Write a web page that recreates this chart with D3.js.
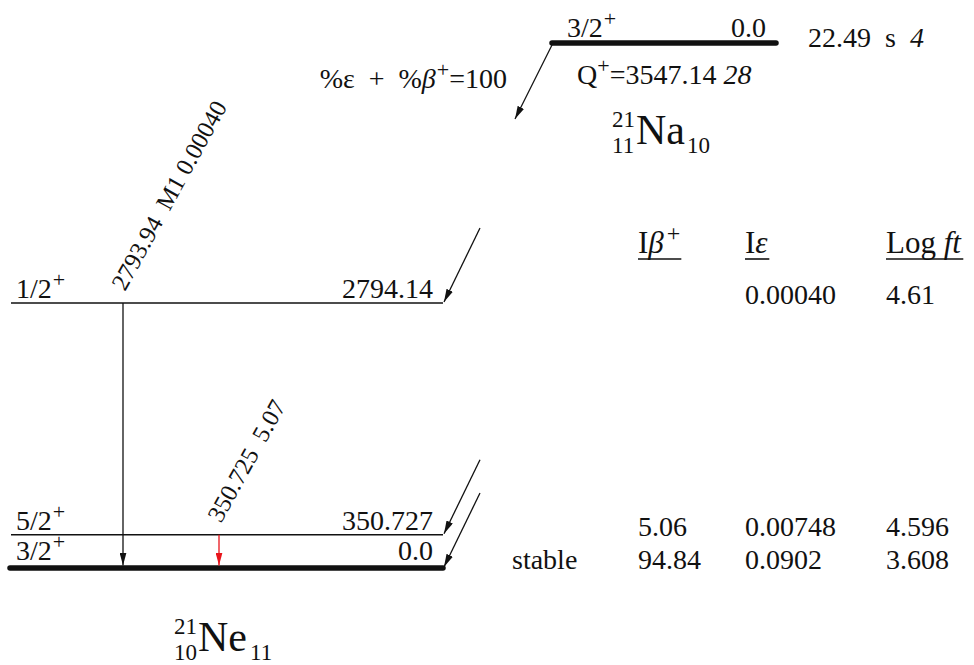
<!DOCTYPE html>
<html>
<head>
<meta charset="utf-8">
<script src="https://cdn.jsdelivr.net/npm/d3@7"></script>
<style>
  html, body { margin: 0; padding: 0; background: #fff; }
  svg text { fill: #111; white-space: pre; }
</style>
</head>
<body>
<svg id="chart" width="974" height="665" font-family="'Liberation Serif', Tinos, 'Times New Roman', 'Nimbus Roman', 'DejaVu Serif', serif"></svg>
<script>
// 21Na (3/2+, 22.49 s) decays by EC + beta+ to levels of 21Ne
const levelEnergies = [0, 350.727, 2794.14];
const levelLabels   = ["0.0", "350.727", "2794.14"];
const levelSpins    = ["3/2", "5/2", "1/2"];
const levelParity   = ["+", "+", "+"];

const gammaFrom   = [2794.14, 350.727];
const gammaTo     = [0, 0];
const gammaLabels = ["2793.94  M1 0.00040", "350.725  5.07"];
const gammaColors = ["#111", "#e8141b"];

const feedIbeta = ["94.84", "5.06", ""];
const feedIeps  = ["0.0902", "0.00748", "0.00040"];
const feedLogft = ["3.608", "4.596", "4.61"];
const groundNote = "stable";

const parentSpin = "3/2";
const parentEnergy = "0.0";
const parentHalfLife = ["22.49\u2002s\u2002", "4"];
const qValue = ["3547.14 ", "28"];
const branching = "100";

const svg = d3.select("#chart");
const FS = 28;      // main label size
const SUP = 22;     // superscript "+" size

// energy scale for daughter levels
const y = d3.scaleLinear().domain([0, 2794.14]).range([568, 303]);
const gx = d3.scaleLinear().domain([0, 1]).range([123, 219]);
const levelX0 = 11, levelX1 = 443;

const defs = svg.append("defs");
function arrowMarker(id, color, w, l) {
  defs.append("marker")
    .attr("id", id)
    .attr("markerUnits", "userSpaceOnUse")
    .attr("viewBox", `0 ${-w/2} ${l} ${w}`)
    .attr("refX", l).attr("refY", 0)
    .attr("markerWidth", l).attr("markerHeight", w)
    .attr("orient", "auto")
    .append("path")
    .attr("d", `M0,${-w/2}L${l},0L0,${w/2}Z`)
    .attr("fill", color);
}
arrowMarker("ahBlack", "#111", 7, 13);
arrowMarker("ahRed", "#e8141b", 7, 13);
arrowMarker("ahFeed", "#111", 7, 13);

function spinText(x, yy, spin, parity) {
  const t = svg.append("text").attr("x", x).attr("y", yy).attr("font-size", FS);
  t.append("tspan").text(spin);
  t.append("tspan").attr("font-size", SUP).attr("dx", 1).attr("dy", -11).text(parity);
  return t;
}

// daughter levels
levelEnergies.forEach((E, i) => {
  const thick = E === 0;
  svg.append("line")
    .attr("x1", thick ? 10 : levelX0).attr("x2", levelX1)
    .attr("y1", y(E)).attr("y2", y(E))
    .attr("stroke", "#111")
    .attr("stroke-width", thick ? 5.5 : 1.4)
    .attr("stroke-linecap", thick ? "round" : "butt");
  const by = y(E) - (thick ? 8 : 5);
  spinText(16, by, levelSpins[i], levelParity[i]);
  svg.append("text").attr("x", 433).attr("y", by)
    .attr("text-anchor", "end").attr("font-size", FS).text(levelLabels[i]);

  // feeding arrow from the parent
  svg.append("line")
    .attr("x1", 480).attr("y1", y(E) - 75)
    .attr("x2", levelX1 + 1).attr("y2", y(E) - 1)
    .attr("stroke", "#111").attr("stroke-width", 1.3)
    .attr("marker-end", "url(#ahFeed)");

  // intensity table
  const ty = y(E) + 1;
  if (feedIbeta[i]) svg.append("text").attr("x", 638).attr("y", ty).attr("font-size", FS).text(feedIbeta[i]);
  svg.append("text").attr("x", 745).attr("y", ty).attr("font-size", FS).text(feedIeps[i]);
  svg.append("text").attr("x", 886).attr("y", ty).attr("font-size", FS).text(feedLogft[i]);
});
svg.append("text").attr("x", 512).attr("y", y(0) + 1).attr("font-size", FS).text(groundNote);

// gamma transitions
gammaFrom.forEach((Ef, i) => {
  const x = gx(i);
  svg.append("line")
    .attr("x1", x).attr("x2", x)
    .attr("y1", y(Ef)).attr("y2", y(gammaTo[i]) - 2.5)
    .attr("stroke", gammaColors[i]).attr("stroke-width", 1.3)
    .attr("marker-end", i === 1 ? "url(#ahRed)" : "url(#ahBlack)");
  svg.append("text")
    .attr("transform", `translate(${x + 2},${y(Ef) - 11}) rotate(-61)`)
    .attr("font-size", 24.5)
    .text(gammaLabels[i]);
});

// table headings
const HF = 31;
const heads = [
  { x: 638, parts: [["I", "normal", 0, HF, 0], ["β", "italic", 0, HF, 0], ["+", "normal", -12, SUP + 2, 3]] },
  { x: 745, parts: [["I", "normal", 0, HF, 0], ["ε", "italic", 0, HF, 0]] },
  { x: 886, parts: [["Log ", "normal", 0, HF, 0], ["ft", "italic", 0, HF, 0]] }
];
heads.forEach(h => {
  const t = svg.append("text").attr("x", h.x).attr("y", 253).attr("font-size", HF);
  let prev = 0;
  h.parts.forEach(p => {
    t.append("tspan").attr("font-style", p[1]).attr("font-size", p[3])
      .attr("dx", p[4]).attr("dy", p[2] - prev).text(p[0]);
    prev = p[2];
  });
  const bb = t.node().getBBox();
  svg.append("line").attr("x1", h.x).attr("x2", bb.x + bb.width + 1)
    .attr("y1", 259).attr("y2", 259).attr("stroke", "#111").attr("stroke-width", 1.6);
});

// parent level
svg.append("line")
  .attr("x1", 552).attr("x2", 776).attr("y1", 43).attr("y2", 43)
  .attr("stroke", "#111").attr("stroke-width", 5.5).attr("stroke-linecap", "round");
spinText(567, 37, parentSpin, "+");
svg.append("text").attr("x", 766).attr("y", 37).attr("text-anchor", "end").attr("font-size", FS).text(parentEnergy);
const hl = svg.append("text").attr("x", 808).attr("y", 47).attr("font-size", FS);
hl.append("tspan").text(parentHalfLife[0]);
hl.append("tspan").attr("font-style", "italic").text(parentHalfLife[1]);

const q = svg.append("text").attr("x", 577).attr("y", 84).attr("font-size", FS);
q.append("tspan").text("Q");
q.append("tspan").attr("font-size", SUP).attr("dy", -11).text("+");
q.append("tspan").attr("dy", 11).text("=" + qValue[0]);
q.append("tspan").attr("font-style", "italic").text(qValue[1]);

// decay arrow from the parent
svg.append("line")
  .attr("x1", 552).attr("y1", 45).attr("x2", 515).attr("y2", 119)
  .attr("stroke", "#111").attr("stroke-width", 1.3)
  .attr("marker-end", "url(#ahFeed)");

const br = svg.append("text").attr("x", 507).attr("y", 88).attr("text-anchor", "end").attr("font-size", FS);
br.append("tspan").text("%ε\u2002+\u2002%");
br.append("tspan").attr("font-style", "italic").text("β");
br.append("tspan").attr("font-size", SUP).attr("dx", 1).attr("dy", -11).text("+");
br.append("tspan").attr("dy", 11).text("=" + branching);

// nuclide labels
function nuclide(x, yBase, A, Z, sym, N, symW) {
  svg.append("text").attr("x", x).attr("y", yBase - 17).attr("font-size", 23).text(A);
  svg.append("text").attr("x", x).attr("y", yBase + 9).attr("font-size", 23).text(Z);
  svg.append("text").attr("x", x + 24).attr("y", yBase).attr("font-size", 42).text(sym);
  svg.append("text").attr("x", x + 24 + symW).attr("y", yBase + 9).attr("font-size", 23).text(N);
}
nuclide(612, 144, "21", "11", "Na", "10", 51);
nuclide(174, 651, "21", "10", "Ne", "11", 52);
</script>
</body>
</html>
